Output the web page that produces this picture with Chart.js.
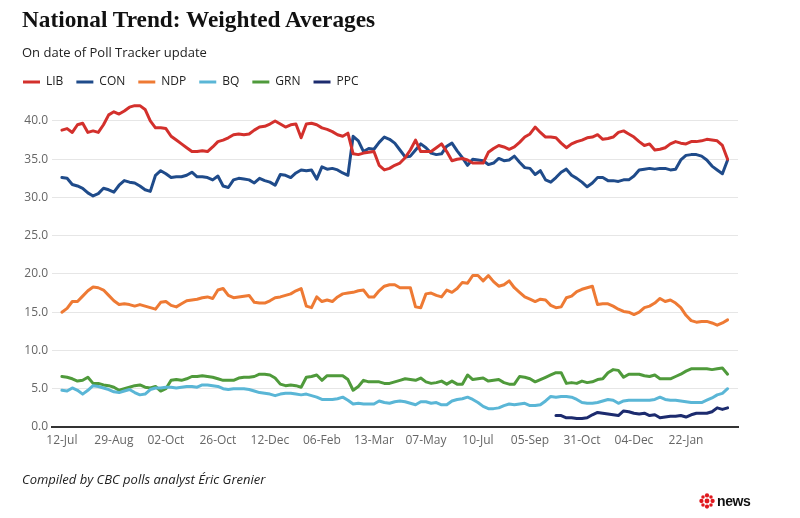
<!DOCTYPE html>
<html>
<head>
<meta charset="utf-8">
<title>National Trend: Weighted Averages</title>
<script src="https://cdn.jsdelivr.net/npm/chart.js@4.4.1/dist/chart.umd.min.js"></script>
<style>
  body { margin: 0; background: #fff; }
  #wrap { position: relative; width: 800px; height: 518px; overflow: hidden; font-family: 'Open Sans', sans-serif; }
  #chart { position: absolute; left: 0; top: 0; }
  .title { position: absolute; left: 22px; top: 8px; font: bold 23.3px/1 'Liberation Serif', serif; color: #111; white-space: nowrap; }
  .subtitle { position: absolute; left: 22px; top: 46px; font: 13px/1 'Open Sans', sans-serif; color: #222; white-space: nowrap; }
  .source { position: absolute; left: 22px; top: 473px; font: italic 13px/1 'Open Sans', sans-serif; color: #222; white-space: nowrap; }
  .logo { position: absolute; left: 699px; top: 493px; display: flex; align-items: center; gap: 2px; }
  .logo span { font: bold 14px/1 'Liberation Sans', sans-serif; letter-spacing: -0.4px; color: #111; }
</style>
</head>
<body>
<div id="wrap">
  <canvas id="chart" width="800" height="518"></canvas>
  <div class="title">National Trend: Weighted Averages</div>
  <div class="subtitle">On date of Poll Tracker update</div>
  <div class="source">Compiled by CBC polls analyst Éric Grenier</div>
  <div class="logo">
    <svg width="16" height="16" viewBox="0 0 30 30">
      <g fill="#e0191f">
        <circle cx="15" cy="15" r="4.6"/>
        <circle cx="15" cy="4.5" r="4"/>
        <circle cx="15" cy="25.5" r="4"/>
        <circle cx="4.5" cy="15" r="4"/>
        <circle cx="25.5" cy="15" r="4"/>
        <circle cx="7.5" cy="7.5" r="3.3"/>
        <circle cx="22.5" cy="7.5" r="3.3"/>
        <circle cx="7.5" cy="22.5" r="3.3"/>
        <circle cx="22.5" cy="22.5" r="3.3"/>
      </g>
    </svg>
    <span>news</span>
  </div>
</div>
<script>
// Labelled dates along the x axis, one every `tickEvery` updates
const tickLabels = ['12-Jul', '29-Aug', '02-Oct', '26-Oct', '12-Dec', '06-Feb', '13-Mar',
  '07-May', '10-Jul', '05-Sep', '31-Oct', '04-Dec', '22-Jan'];
const tickEvery = 10;
const yTicks = [0, 5, 10, 15, 20, 25, 30, 35, 40];

// Weighted averages (%) on each Poll Tracker update
const lib = [
  38.8, 39.0, 38.5, 39.5, 39.7, 38.5, 38.7, 38.5, 39.5, 40.8,
  41.2, 40.9, 41.3, 41.8, 42.0, 42.0, 41.5, 40.0, 39.1, 39.1,
  39.0, 38.0, 37.5, 37.0, 36.5, 36.0, 36.0, 36.1, 36.0, 36.6,
  37.3, 37.5, 37.8, 38.2, 38.3, 38.2, 38.3, 38.8, 39.2, 39.3,
  39.6, 40.0, 39.6, 39.2, 39.5, 39.6, 37.8, 39.6, 39.7, 39.5,
  39.1, 38.9, 38.6, 38.2, 38.0, 38.4, 35.7, 35.6, 35.8, 35.9,
  36.0, 34.2, 33.6, 33.8, 34.2, 34.5, 35.2, 36.2, 37.5, 36.0,
  36.0, 36.0, 36.5, 37.0, 36.0, 34.8, 35.0, 35.1, 34.9, 34.5,
  34.5, 34.5, 35.9, 36.4, 36.8, 36.6, 36.3, 36.6, 37.2, 37.9,
  38.3, 39.2, 38.5, 37.9, 37.9, 37.8, 37.1, 36.5, 37.0, 37.3,
  37.5, 37.8, 37.9, 38.2, 37.6, 37.7, 37.9, 38.5, 38.7, 38.3,
  37.9, 37.3, 36.8, 37.0, 36.2, 36.3, 36.5, 37.0, 37.3, 37.1,
  37.0, 37.3, 37.3, 37.4, 37.6, 37.5, 37.4, 36.8, 35.0
];
const con = [
  32.6, 32.5, 31.7, 31.5, 31.2, 30.6, 30.2, 30.5, 31.2, 31.0,
  30.7, 31.6, 32.2, 32.0, 31.9, 31.5, 31.0, 30.8, 32.9, 33.5,
  33.1, 32.6, 32.7, 32.7, 32.9, 33.3, 32.7, 32.7, 32.6, 32.3,
  32.8, 31.5, 31.3, 32.3, 32.5, 32.4, 32.3, 31.9, 32.5, 32.2,
  32.0, 31.6, 33.0, 32.9, 32.6, 33.2, 33.6, 33.5, 33.6, 32.4,
  34.0, 33.7, 33.8, 33.6, 33.2, 32.9, 38.0, 37.4, 36.0, 36.4,
  36.3, 37.2, 37.9, 37.6, 37.1, 36.2, 35.3, 35.4, 36.2, 37.0,
  36.5, 35.8, 35.6, 35.7, 36.7, 37.1, 36.1, 35.2, 34.2, 35.0,
  34.9, 34.8, 34.3, 34.5, 35.1, 34.8, 34.9, 35.4, 34.6, 33.9,
  33.8, 33.0, 33.5, 32.3, 32.0, 32.6, 33.3, 33.7, 32.9, 32.5,
  32.0, 31.4, 31.9, 32.6, 32.6, 32.2, 32.2, 32.1, 32.3, 32.3,
  32.8, 33.6, 33.7, 33.8, 33.7, 33.8, 33.8, 33.6, 33.7, 34.9,
  35.5, 35.6, 35.6, 35.4, 34.9, 34.1, 33.6, 33.1, 34.9
];
const ndp = [
  15.0, 15.5, 16.4, 16.4, 17.1, 17.8, 18.3, 18.2, 17.9, 17.2,
  16.5, 16.0, 16.1, 16.0, 15.8, 16.0, 15.8, 15.6, 15.4, 16.3,
  16.4, 15.9, 15.7, 16.1, 16.5, 16.6, 16.7, 16.9, 17.0, 16.8,
  17.9, 18.1, 17.2, 16.9, 17.0, 17.1, 17.2, 16.3, 16.2, 16.2,
  16.5, 16.9, 17.0, 17.2, 17.4, 17.8, 18.1, 15.8, 15.6, 17.0,
  16.4, 16.6, 16.4, 17.0, 17.4, 17.5, 17.6, 17.8, 17.9, 17.0,
  17.0, 17.8, 18.4, 18.6, 18.6, 18.2, 18.2, 18.2, 15.7, 15.6,
  17.4, 17.5, 17.2, 17.0, 17.9, 17.6, 18.1, 18.9, 18.8, 19.8,
  19.8, 19.1, 19.8, 19.0, 18.4, 18.6, 19.1, 18.2, 17.6, 17.0,
  16.7, 16.4, 16.7, 16.6, 15.9, 15.6, 15.7, 16.9, 17.1, 17.7,
  18.0, 18.2, 18.4, 16.0, 16.1, 16.1, 15.8, 15.4, 15.1, 15.0,
  14.7, 15.0, 15.6, 15.8, 16.2, 16.8, 16.4, 16.6, 16.2, 15.6,
  14.6, 13.9, 13.7, 13.8, 13.8, 13.6, 13.3, 13.6, 14.0
];
const bq = [
  4.8, 4.7, 5.1, 4.8, 4.3, 4.8, 5.4, 5.3, 5.1, 4.9,
  4.6, 4.5, 4.7, 4.9, 4.5, 4.2, 4.3, 4.9, 5.1, 5.1,
  5.2, 5.2, 5.1, 5.2, 5.3, 5.3, 5.2, 5.5, 5.5, 5.4,
  5.3, 5.0, 4.9, 5.0, 5.0, 5.0, 4.9, 4.7, 4.5, 4.4,
  4.3, 4.1, 4.3, 4.4, 4.4, 4.3, 4.2, 4.3, 4.1, 3.9,
  3.6, 3.6, 3.6, 3.7, 3.9, 3.5, 3.0, 3.1, 3.0, 3.0,
  3.0, 3.4, 3.2, 3.1, 3.3, 3.4, 3.3, 3.1, 2.9, 3.3,
  3.3, 3.1, 3.2, 2.9, 2.9, 3.4, 3.6, 3.7, 3.9, 3.6,
  3.2, 2.7, 2.4, 2.4, 2.5, 2.8, 3.0, 2.9, 3.0, 3.1,
  2.8, 2.8, 2.9, 3.4, 4.0, 3.9, 4.0, 4.0, 3.9, 3.6,
  3.2, 3.1, 3.1, 3.2, 3.4, 3.6, 3.5, 3.1, 3.4, 3.5,
  3.5, 3.5, 3.5, 3.5, 3.6, 3.9, 3.6, 3.5, 3.5, 3.4,
  3.3, 3.2, 3.2, 3.2, 3.5, 3.8, 4.2, 4.4, 5.0
];
const grn = [
  6.6, 6.5, 6.3, 6.0, 6.1, 6.5, 5.7, 5.7, 5.5, 5.4,
  5.2, 4.8, 5.0, 5.2, 5.4, 5.5, 5.2, 5.1, 5.3, 4.7,
  5.0, 6.1, 6.2, 6.1, 6.3, 6.6, 6.6, 6.7, 6.6, 6.5,
  6.3, 6.1, 6.1, 6.1, 6.4, 6.5, 6.5, 6.6, 6.9, 6.9,
  6.8, 6.4, 5.6, 5.4, 5.5, 5.4, 5.2, 6.5, 6.6, 6.8,
  6.1, 6.7, 6.7, 6.7, 6.7, 6.2, 4.8, 5.3, 6.1, 5.9,
  5.9, 5.9, 5.7, 5.7, 5.9, 6.1, 6.3, 6.2, 6.1, 6.4,
  5.9, 5.7, 5.8, 6.0, 5.6, 6.0, 5.6, 5.6, 6.8, 6.2,
  6.3, 6.4, 6.0, 6.1, 6.2, 5.8, 5.6, 5.6, 6.6, 6.5,
  6.3, 5.9, 6.2, 6.5, 6.8, 7.1, 7.1, 5.7, 5.8, 5.7,
  6.0, 5.8, 5.9, 6.2, 6.3, 7.1, 7.5, 7.4, 6.5, 6.9,
  6.9, 6.9, 6.7, 6.6, 6.8, 6.3, 6.3, 6.3, 6.6, 6.9,
  7.3, 7.6, 7.6, 7.6, 7.6, 7.5, 7.6, 7.7, 6.9
];
// PPC only tracked from the 96th update onward
const ppcFirstUpdate = 95;
const ppc = [
  1.5, 1.5, 1.2, 1.2, 1.1, 1.1, 1.2, 1.6, 1.9, 1.8,
  1.7, 1.6, 1.5, 2.1, 2.0, 1.8, 1.7, 1.8, 1.5, 1.6,
  1.2, 1.3, 1.4, 1.4, 1.5, 1.3, 1.6, 1.8, 1.8, 1.8,
  2.0, 2.5, 2.3, 2.5
];

function toPoints(values, start = 0) {
  return values.map((v, i) => ({ x: start + i, y: v }));
}

function lineSet(label, values, color, start) {
  return {
    label: label,
    data: toPoints(values, start),
    borderColor: color,
    backgroundColor: color,
    borderWidth: 3,
    pointRadius: 0,
    tension: 0,
    borderJoinStyle: 'round',
    borderCapStyle: 'round',
  };
}

new Chart(document.getElementById('chart'), {
  type: 'line',
  data: {
    datasets: [
      lineSet('LIB', lib, '#d3302c'),
      lineSet('CON', con, '#1f4b8a'),
      lineSet('NDP', ndp, '#ee7a34'),
      lineSet('BQ', bq, '#5ab6d6'),
      lineSet('GRN', grn, '#4f9a3b'),
      lineSet('PPC', ppc, '#1c2b6e', ppcFirstUpdate),
    ],
  },
  options: {
    responsive: false,
    animation: false,
    layout: { padding: { left: 10, right: 62, top: 63, bottom: 71 } },
    plugins: {
      tooltip: { enabled: false },
      legend: {
        position: 'top',
        align: 'start',
        labels: {
          usePointStyle: true,
          pointStyle: 'line',
          pointStyleWidth: 17,
          padding: 13,
          color: '#222',
          font: { family: 'Open Sans', size: 12 },
        },
      },
    },
    scales: {
      x: {
        type: 'linear',
        min: -1.9,
        max: 130,
        afterBuildTicks: (scale) => {
          scale.ticks = tickLabels.map((_, n) => ({ value: n * tickEvery }));
        },
        afterFit: (scale) => { scale.height = 20; },
        grid: { display: false },
        border: { display: true, color: '#333', width: 2 },
        ticks: {
          autoSkip: false,
          maxRotation: 0,
          padding: -2,
          color: '#666',
          font: { family: 'Open Sans', size: 12 },
          callback: (v) => tickLabels[Math.round(v / tickEvery)] || '',
        },
      },
      y: {
        min: 0,
        max: 43,
        afterBuildTicks: (scale) => {
          scale.ticks = yTicks.map((v) => ({ value: v }));
        },
        afterFit: (scale) => { scale.width = 42; },
        grid: { color: '#e6e6e6', drawTicks: false },
        border: { display: false },
        ticks: {
          padding: 4,
          color: '#666',
          font: { family: 'Open Sans', size: 12 },
          callback: (v) => v.toFixed(1),
        },
      },
    },
  },
});
</script>
</body>
</html>
